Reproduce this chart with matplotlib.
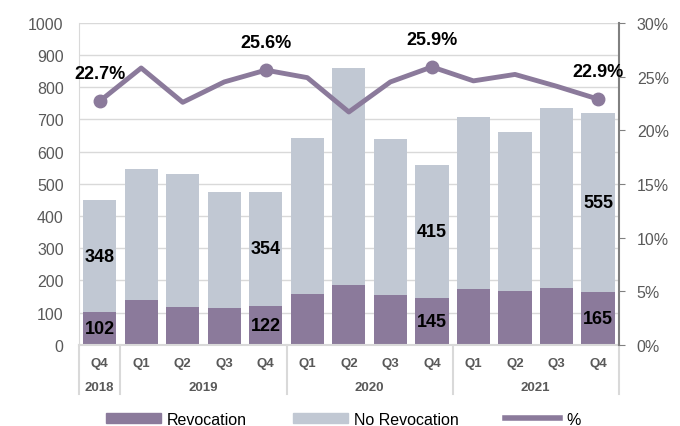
import matplotlib
matplotlib.use("Agg")
import matplotlib.pyplot as plt
import matplotlib.transforms as mtransforms
from matplotlib.patches import Patch
from matplotlib.lines import Line2D
import numpy as np

plt.rcParams["font.family"] = ["Liberation Sans", "DejaVu Sans"]

# Data
quarters = ["Q4", "Q1", "Q2", "Q3", "Q4", "Q1", "Q2", "Q3", "Q4", "Q1", "Q2", "Q3", "Q4"]
years = ["2018", "2019", "2020", "2021"]
year_spans = [(0, 0), (1, 4), (5, 8), (9, 12)]
revocation = [102, 140, 119, 116, 122, 159, 186, 156, 145, 174, 166, 177, 165]
no_revocation = [348, 406, 411, 358, 354, 485, 675, 484, 415, 535, 495, 559, 555]
pct = [22.7, 25.8, 22.6, 24.5, 25.6, 24.9, 21.7, 24.5, 25.9, 24.6, 25.2, 24.1, 22.9]
labelled = [0, 4, 8, 12]

purple = "#8B7A9B"
grey = "#C1C8D3"
txt_grey = "#595959"

fig = plt.figure(figsize=(6.8, 4.27), dpi=100)
ax = fig.add_axes([0.116, 0.19, 0.794, 0.754])
x = np.arange(len(quarters))

ax.bar(x, revocation, width=0.8, color=purple, zorder=2)
ax.bar(x, no_revocation, width=0.8, bottom=revocation, color=grey, zorder=2)

ax.set_xlim(-0.5, len(quarters) - 0.5)
ax.set_ylim(0, 1000)
ax.set_yticks(range(0, 1001, 100))
ax.yaxis.grid(True, color="#D9D9D9", linewidth=1, zorder=0)
ax.tick_params(axis="y", length=0, labelsize=11.5, labelcolor=txt_grey, pad=11)
ax.set_xticks(x)
ax.set_xticklabels(quarters, fontsize=9.5, fontweight="bold", color=txt_grey)
ax.tick_params(axis="x", length=0, pad=9)
for s in ["top", "right"]:
    ax.spines[s].set_visible(False)
ax.spines["left"].set_color("#D9D9D9")
ax.spines["bottom"].set_color("#D9D9D9")
ax.spines["bottom"].set_linewidth(1.5)

# value labels on labelled bars
for i in labelled:
    ax.text(i, revocation[i] / 2, str(revocation[i]), ha="center", va="center",
            fontsize=13, fontweight="bold", zorder=5)
    ax.text(i, revocation[i] + no_revocation[i] / 2, str(no_revocation[i]), ha="center",
            va="center", fontsize=13, fontweight="bold", zorder=5)

# year row with separators
trans = mtransforms.blended_transform_factory(ax.transData, ax.transAxes)
for b in [-0.5, 0.5, 4.5, 8.5, 12.5]:
    ax.plot([b, b], [0, -0.153], transform=trans, color="#D9D9D9", linewidth=1.5, clip_on=False)
for yr, (a, b) in zip(years, year_spans):
    ax.text((a + b) / 2, -0.13, yr, transform=trans, ha="center", va="center",
            fontsize=9.5, fontweight="bold", color=txt_grey)

ax2 = ax.twinx()
ax2.plot(x, pct, color=purple, linewidth=3.5, solid_capstyle="round", zorder=3)
ax2.plot([x[i] for i in labelled], [pct[i] for i in labelled], "o", color=purple,
         markersize=9, zorder=3)
for i in labelled:
    ax2.annotate(f"{pct[i]:.1f}%", (x[i], pct[i]), xytext=(0, 20), textcoords="offset points",
                 ha="center", va="center", fontsize=13, fontweight="bold")
ax2.set_ylim(0, 30)
ax2.set_yticks(range(0, 31, 5))
ax2.set_yticklabels([f"{v}%" for v in range(0, 31, 5)])
ax2.tick_params(axis="y", direction="out", length=4, color="#808080", labelsize=11.5,
                labelcolor=txt_grey, pad=9)
for s in ["top", "left", "bottom"]:
    ax2.spines[s].set_visible(False)
ax2.spines["right"].set_color("#808080")
ax2.spines["right"].set_linewidth(1.5)

handles = [Patch(color=purple), Patch(color=grey), Line2D([], [], color=purple, linewidth=4)]
fig.legend(handles, ["Revocation", "No Revocation", "%"], loc="center", bbox_to_anchor=(0.505, 0.016),
           ncol=3, frameon=False, fontsize=11.5, handlelength=3.4, handleheight=0.6,
           columnspacing=2.9, handletextpad=0.4)

fig.savefig("out.png", dpi=100)
